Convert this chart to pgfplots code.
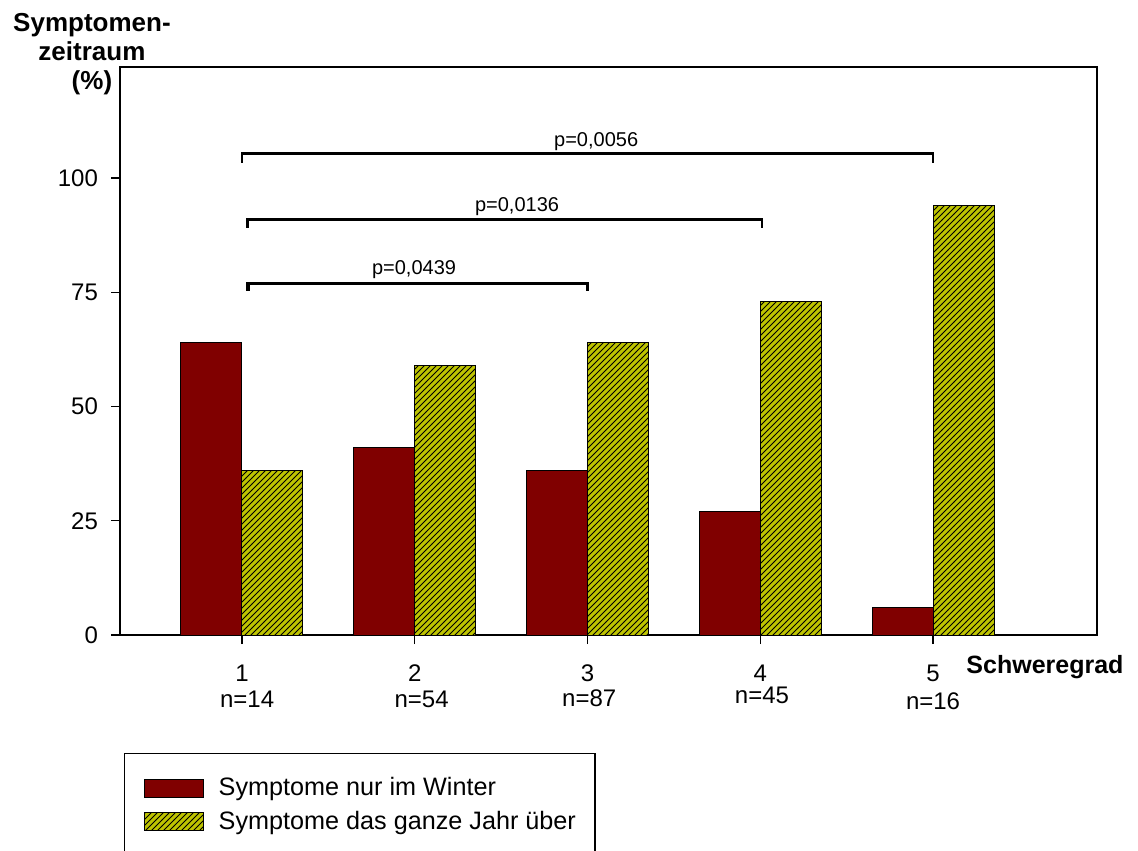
\documentclass[border=0pt]{standalone}
\usepackage{fontspec}
\setmainfont{Liberation Sans}
\usepackage{pgfplots}
\pgfplotsset{compat=1.18}
\usetikzlibrary{patterns}

\definecolor{winterred}{RGB}{128,0,0}
\definecolor{yeargreen}{RGB}{190,196,0}

\begin{document}
\begin{tikzpicture}
\path[use as bounding box] (0,0) rectangle (569pt,-425pt);
\begin{axis}[
  at={(60pt,-317.5pt)}, anchor=south west,
  scale only axis, width=488.5pt, height=284pt,
  xmin=0.294, xmax=5.949, ymin=0, ymax=124.3,
  ybar=0pt, bar width=30.5pt,
  axis line style={line width=0.7pt},
  tick align=outside, tick pos=left,
  major tick length=4.5pt,
  tick style={black, line width=0.7pt},
  xtick={1,2,3,4,5}, ytick={0,25,50,75,100},
  ticklabel style={font=\fontsize{12}{14}\selectfont},
  xticklabel style={yshift=-7pt},
  yticklabel style={xshift=-3pt},
  /pgf/number format/assume math mode=true,
  xlabel={Schweregrad},
  xlabel style={font=\bfseries\fontsize{12.5}{15}\selectfont, at={(axis description cs:0.866,-0.0669)}, anchor=base west, inner sep=0pt},
  ylabel={Symptomen-\\zeitraum\\(\%)},
  ylabel style={font=\bfseries\fontsize{13}{14.6}\selectfont, align=center, rotate=-90, at={(axis description cs:-0.0287,1.0951)}, anchor=north, inner sep=0pt},
  clip=false,
  legend style={at={(axis description cs:0.0041,-0.2077)}, anchor=north west,
    draw=black, line width=0.7pt, inner xsep=9.5pt, inner ysep=12pt,
    row sep=6pt, column sep=7.5pt,
    nodes={inner sep=0pt, line width=0.5pt},
    font=\fontsize{12.6}{15}\selectfont},
  legend cell align=left,
  legend image code/.code={\draw[#1] (0pt,-4.5pt) rectangle (29.5pt,4.5pt);},
]
\addplot[fill=winterred, draw=black, line width=0.5pt]
  coordinates {(1,64) (2,41) (3,36) (4,27) (5,6)};
\addlegendentry{Symptome nur im Winter}
\addplot[fill=yeargreen, draw=black, line width=0.5pt, postaction={pattern=north east lines}]
  coordinates {(1,36) (2,59) (3,64) (4,73) (5,94)};
\addlegendentry{Symptome das ganze Jahr über\hspace{3pt}}

% significance brackets
\draw[line width=1.4pt] (axis cs:1,103.3) -- (axis cs:1,105.4) -- (axis cs:5,105.4) -- (axis cs:5,103.3);
\draw[line width=1.4pt] (axis cs:1.03,89.1) -- (axis cs:1.03,91.0) -- (axis cs:4.01,91.0) -- (axis cs:4.01,89.1);
\draw[line width=1.6pt] (axis cs:1.035,75.3) -- (axis cs:1.035,77.0) -- (axis cs:3.0,77.0) -- (axis cs:3.0,75.3);
\node[anchor=base, inner sep=0pt, font=\fontsize{10}{12}\selectfont] at (axis cs:3.05,106.8) {p=0,0056};
\node[anchor=base, inner sep=0pt, font=\fontsize{10}{12}\selectfont] at (axis cs:2.592,92.6) {p=0,0136};
\node[anchor=base, inner sep=0pt, font=\fontsize{10}{12}\selectfont] at (axis cs:1.996,78.8) {p=0,0439};

% group sizes
\node[anchor=base, inner sep=0pt, font=\fontsize{12}{14}\selectfont] at (axis cs:1.03,-15.97) {n=14};
\node[anchor=base, inner sep=0pt, font=\fontsize{12}{14}\selectfont] at (axis cs:2.04,-15.97) {n=54};
\node[anchor=base, inner sep=0pt, font=\fontsize{12}{14}\selectfont] at (axis cs:3.01,-15.54) {n=87};
\node[anchor=base, inner sep=0pt, font=\fontsize{12}{14}\selectfont] at (axis cs:4.01,-14.88) {n=45};
\node[anchor=base, inner sep=0pt, font=\fontsize{12}{14}\selectfont] at (axis cs:5.0,-16.41) {n=16};
\end{axis}
\end{tikzpicture}
\end{document}
